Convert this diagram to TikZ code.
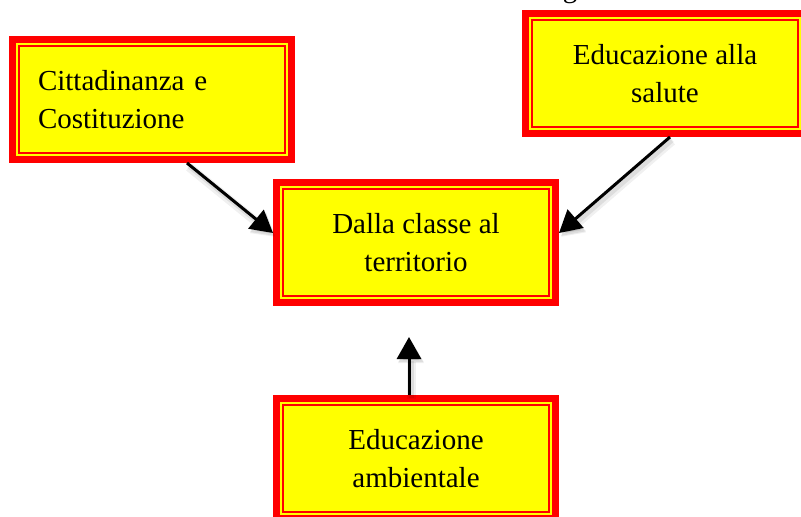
\documentclass[tikz,border=0pt]{standalone}
\usepackage{fontspec}
\setmainfont{Liberation Serif}
\usetikzlibrary{arrows.meta,positioning}
\definecolor{boxyellow}{RGB}{255,255,0}
\definecolor{boxred}{RGB}{255,0,0}

\begin{document}
\begin{tikzpicture}[->,>={Triangle[length=22pt,width=24pt]},line width=3pt,
                    x=1pt,y=-1pt,font=\fontsize{29}{38}\selectfont]
  \tikzstyle{topic}=[rectangle,draw=boxred,line width=7pt,fill=boxyellow,text=black,
                     minimum width=279pt,minimum height=120pt,inner sep=0pt,align=center,
                     path picture={\draw[-,boxred,line width=2pt]
                       ([shift={(6.5pt,-6.5pt)}]path picture bounding box.north west) rectangle
                       ([shift={(-6.5pt,6.5pt)}]path picture bounding box.south east);}]
  \tikzstyle{link}=[preaction={draw=black,opacity=0.06,line width=9pt,
                               transform canvas={shift={(2pt,-4pt)}}},
                    preaction={draw=black,opacity=0.08,line width=5pt,
                               transform canvas={shift={(2pt,-3pt)}}}]

  \useasboundingbox (0,0) rectangle (801,517);
  \clip (0,0) rectangle (801,517);

  \node[topic] (cla) at (416,242.5)          {Dalla classe al\\territorio};
  \node[topic] (amb) [below=89pt of cla]     {Educazione\\ambientale};
  \node[topic,align=left,text width=228pt] (cit) at (152,99.5) {Cittadinanza e\\Costituzione};
  \node[topic] (sal) at (665,73.5)           {Educazione alla\\salute};
  \node[anchor=base] (head) at (570,-2.3)    {g};

  \draw[link] ([xshift=35pt]cit.south) -- ([yshift=9.5pt]cla.west);
  \draw[link] ([xshift=5pt]sal.south) -- ([yshift=9.5pt]cla.east);
  \draw[link] ([xshift=-7pt]amb.north) -- ([xshift=-7pt,yshift=-31pt]cla.south);
\end{tikzpicture}
\end{document}
